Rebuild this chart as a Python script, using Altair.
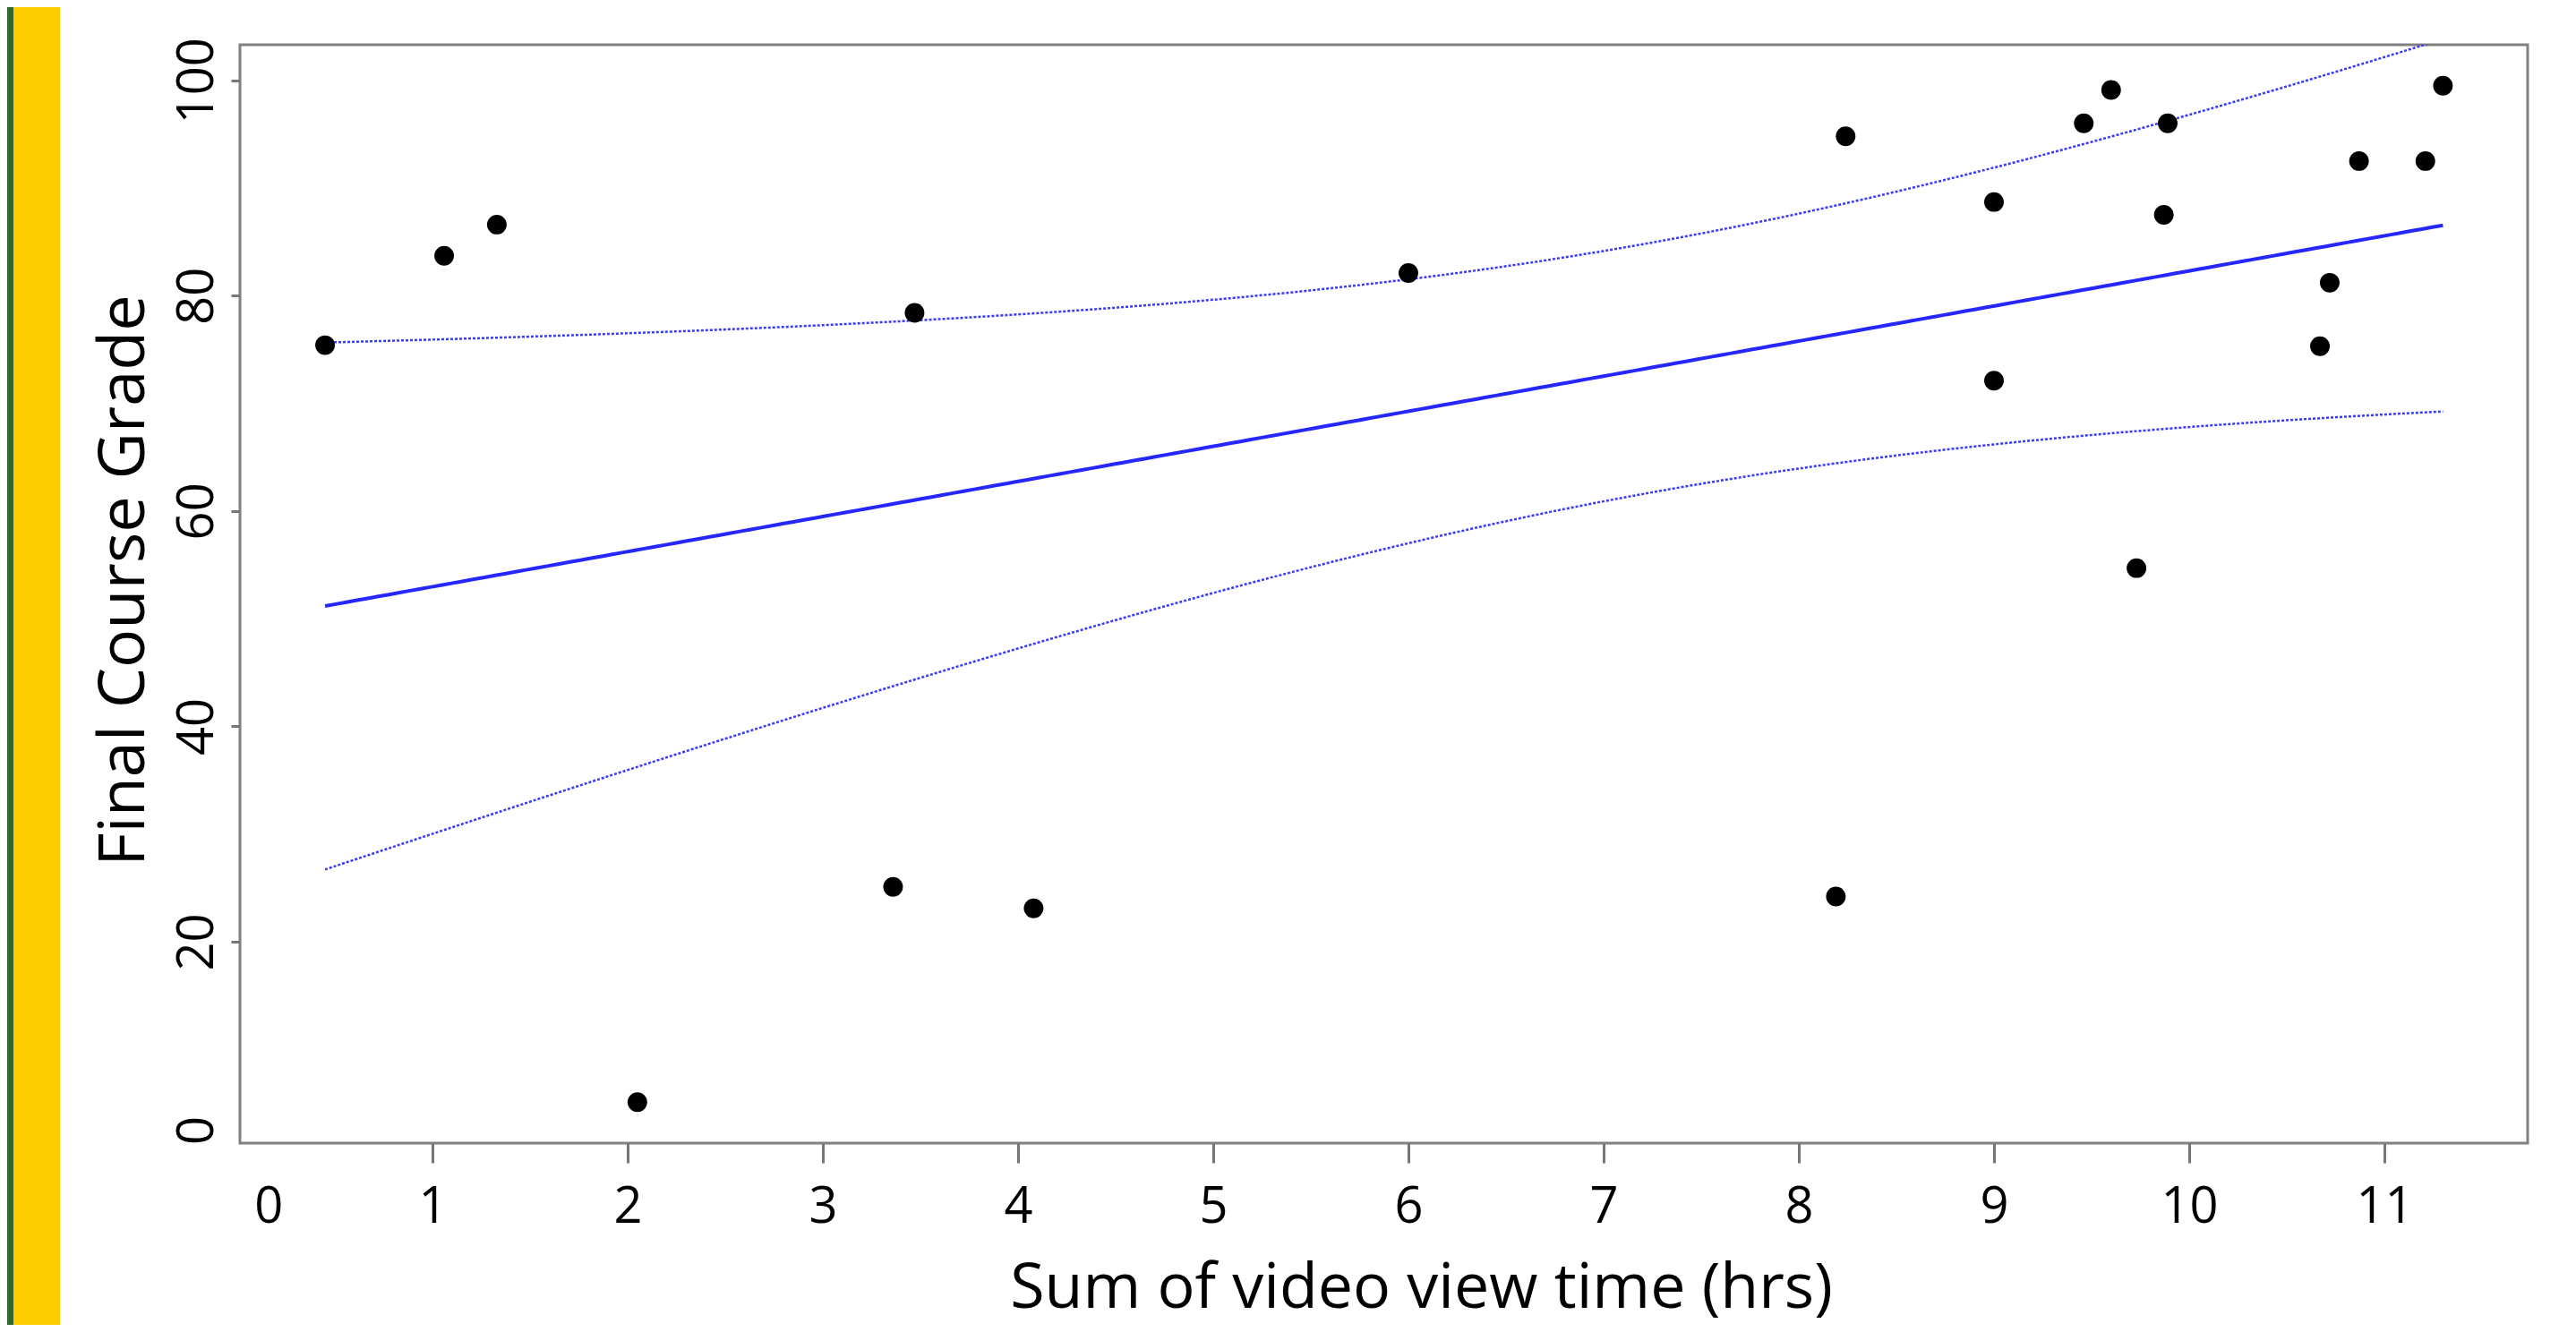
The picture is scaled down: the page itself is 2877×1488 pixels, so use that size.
import altair as alt
import numpy as np
import pandas as pd

# ---- data ----
view_hours = [0.45, 1.06, 1.33, 2.05, 3.36, 3.47, 4.08, 6.00, 8.19, 8.24, 9.00,
              9.00, 9.46, 9.60, 9.73, 9.87, 9.89, 10.67, 10.72, 10.87, 11.21, 11.30]
grades = [75.4, 83.7, 86.6, 5.1, 25.1, 78.4, 23.1, 82.1, 24.2, 94.8, 88.7,
          72.1, 96.0, 99.1, 54.7, 87.5, 96.0, 75.3, 81.2, 92.5, 92.5, 99.5]

# tick positions; the "0" labels sit slightly inside the frame in the reference
x_ticks = [0.16, 1, 2, 3, 4, 5, 6, 7, 8, 9, 10, 11]
y_ticks = [2.5, 20, 40, 60, 80, 100]
x_title = "Sum of video view time (hrs)"
y_title = "Final Course Grade"

pts = pd.DataFrame({"hours": view_hours, "grade": grades})

# ---- least squares fit with 95% confidence band of the mean (as in R predict) ----
x = np.array(view_hours)
y = np.array(grades)
n = len(x)
xm, ym = x.mean(), y.mean()
sxx = ((x - xm) ** 2).sum()
slope = ((x - xm) * (y - ym)).sum() / sxx
intercept = ym - slope * xm
resid = y - (intercept + slope * x)
s = np.sqrt((resid ** 2).sum() / (n - 2))
t_crit = 2.086  # Student t, 0.975 quantile, 20 degrees of freedom
grid = np.linspace(x.min(), x.max(), 200)
fit = intercept + slope * grid
half = t_crit * s * np.sqrt(1.0 / n + (grid - xm) ** 2 / sxx)
fit_df = pd.DataFrame({"hours": grid, "fit": fit, "lower": fit - half, "upper": fit + half})

FONT = "Open Sans"
xscale = alt.Scale(domain=[0.014, 11.734], nice=False, zero=False)
yscale = alt.Scale(domain=[1.3, 103.3], nice=False, zero=False)

x_axis = alt.Axis(
    values=x_ticks, title=x_title, domain=False, grid=False,
    labelExpr="datum.value < 0.5 ? '0' : format(datum.value, 'd')",
    tickSize=22, tickColor="#777777", tickWidth=3,
    tickOpacity={"condition": {"test": "datum.value < 0.5", "value": 0}, "value": 1},
    labelFont=FONT, labelFontSize=56, labelColor="black", labelPadding=66,
    labelBaseline="alphabetic", labelAlign="center", labelAngle=0,
    labelFlush=False, labelOverlap=False, labelBound=False,
    titleFont=FONT, titleFontSize=70, titleFontWeight="normal", titleColor="black",
    titleX=1319, titleY=183, titleAlign="center", titleBaseline="alphabetic", titleAngle=0,
)
y_axis = alt.Axis(
    values=y_ticks, title=y_title, domain=False, grid=False,
    labelExpr="datum.value < 10 ? '0' : format(datum.value, 'd')",
    tickSize=10, tickColor="#777777", tickWidth=3,
    tickOpacity={"condition": {"test": "datum.value < 10", "value": 0}, "value": 1},
    labelFont=FONT, labelFontSize=56, labelColor="black", labelPadding=21,
    labelAngle=270, labelAlign="center", labelBaseline="alphabetic",
    labelFlush=False, labelOverlap=False, labelBound=False,
    titleFont=FONT, titleFontSize=72, titleFontWeight="normal", titleColor="black",
    titleX=-108, titleY=598, titleAngle=270, titleAlign="center", titleBaseline="alphabetic",
)

one = pd.DataFrame({"k": [0]})
green = alt.Chart(one).mark_rect(color="#336633").encode(
    x=alt.value(-260), x2=alt.value(-253), y=alt.value(-42), y2=alt.value(1430))
gold = alt.Chart(one).mark_rect(color="#FFCC00").encode(
    x=alt.value(-253), x2=alt.value(-201), y=alt.value(-42), y2=alt.value(1430))

base = alt.Chart(fit_df)
fit_line = base.mark_line(color="#2626ff", strokeWidth=4, clip=True).encode(
    x=alt.X("hours:Q", scale=xscale, axis=x_axis),
    y=alt.Y("fit:Q", scale=yscale, axis=y_axis),
)
upper = base.mark_line(color="#3a3aff", strokeWidth=2.5, strokeDash=[3, 2], clip=True).encode(
    x=alt.X("hours:Q", scale=xscale), y=alt.Y("upper:Q", scale=yscale))
lower = base.mark_line(color="#3a3aff", strokeWidth=2.5, strokeDash=[3, 2], clip=True).encode(
    x=alt.X("hours:Q", scale=xscale), y=alt.Y("lower:Q", scale=yscale))

points = alt.Chart(pts).mark_circle(size=480, color="black", opacity=1).encode(
    x=alt.X("hours:Q", scale=xscale),
    y=alt.Y("grade:Q", scale=yscale),
)

chart = alt.layer(green, gold, upper, lower, fit_line, points).properties(
    width=2555, height=1227,
    padding={"left": 260, "top": 42, "right": 40, "bottom": 203},
    autosize=alt.AutoSizeParams(type="none"),
    background="white",
).configure_view(stroke="#808080", strokeWidth=3)

chart.save("out.html", embed_options={"renderer": "svg", "actions": False})
